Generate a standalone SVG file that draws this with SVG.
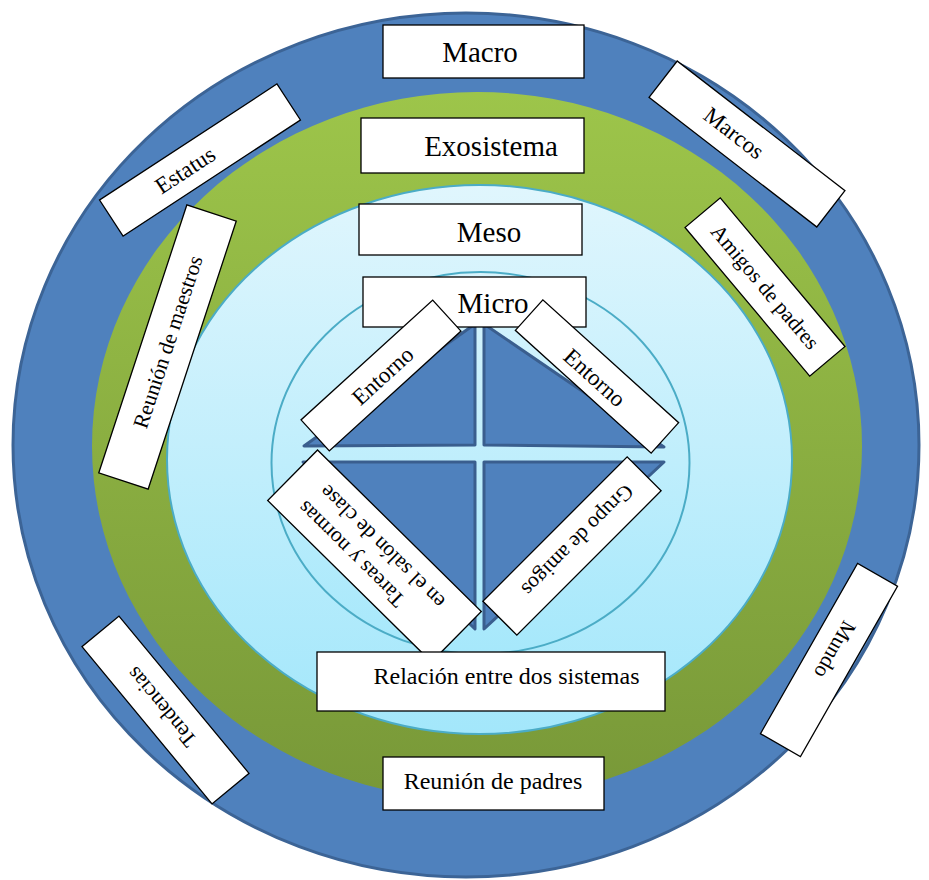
<svg xmlns="http://www.w3.org/2000/svg" width="929" height="880" viewBox="0 0 929 880" font-family="'Liberation Serif','Times New Roman',serif">
<defs>
<linearGradient id="gGreen" x1="0" y1="0" x2="0" y2="1">
<stop offset="0" stop-color="#9DC54A"/>
<stop offset="1" stop-color="#789838"/>
</linearGradient>
<linearGradient id="gMeso" x1="0" y1="0" x2="0" y2="1">
<stop offset="0" stop-color="#E0F6FD"/>
<stop offset="1" stop-color="#A3E7FB"/>
</linearGradient>
<linearGradient id="gMicro" x1="0" y1="0" x2="0" y2="1">
<stop offset="0" stop-color="#D8F4FD"/>
<stop offset="1" stop-color="#A6E8FB"/>
</linearGradient>
<style>
.box{fill:#fff;stroke:#000;stroke-width:1.3}
text{font-family:"Liberation Serif","Times New Roman",serif;fill:#000;text-anchor:middle}
.big{font-size:29px}
.mid{font-size:24px}
.sm{font-size:21.5px}
.sm2{font-size:23px}
.tri{fill:#4F81BD;stroke:#3A5E8E;stroke-width:3;stroke-linejoin:round}
</style>
</defs>
<g id="rings">
<ellipse cx="466" cy="445" rx="453" ry="432" fill="#4F81BD" stroke="#3C6496" stroke-width="3"/>
<ellipse cx="477" cy="446" rx="385" ry="354" fill="url(#gGreen)"/>
<ellipse cx="479.5" cy="459.5" rx="312.5" ry="274.5" fill="url(#gMeso)" stroke="#4BACC6" stroke-width="2"/>
<ellipse cx="480.5" cy="463" rx="209" ry="191" fill="url(#gMicro)" stroke="#4BACC6" stroke-width="2"/>
</g>
<g id="diamond">
<path class="tri" d="M475,324 L475,445 L304,446 Z"/>
<path class="tri" d="M484,324 L484,445 L664,447 Z"/>
<path class="tri" d="M475,462 L303,462 L475,629 Z"/>
<path class="tri" d="M484,462 L664,462 L484,629 Z"/>
</g>
<g id="macro"><rect class="box" x="383" y="25" width="201" height="53"/><text class="big" x="480" y="62">Macro</text></g>
<g id="exosistema"><rect class="box" x="361" y="118" width="223" height="55"/><text class="big" x="491" y="156">Exosistema</text></g>
<g id="meso"><rect class="box" x="359" y="204" width="223" height="51"/><text class="big" x="489" y="242">Meso</text></g>
<g id="micro"><rect class="box" x="363" y="277" width="223" height="50"/><text class="big" x="493" y="313">Micro</text></g>
<g id="estatus" transform="translate(200,160) rotate(-33.2)"><rect class="box" x="-106" y="-21.5" width="212" height="43"/><text class="sm2" x="-18" y="8">Estatus</text></g>
<g id="marcos" transform="translate(747,144) rotate(37.7)"><rect class="box" x="-106" y="-23" width="212" height="46"/><text class="sm2" x="-17" y="7">Marcos</text></g>
<g id="amigos-padres" transform="translate(765,287) rotate(50)"><rect class="box" x="-97" y="-23" width="194" height="46"/><text class="sm" x="0" y="7">Amigos de padres</text></g>
<g id="reunion-maestros" transform="translate(167.5,347) rotate(-71.8)"><rect class="box" x="-141" y="-26" width="282" height="52"/><text class="sm" x="5" y="6">Reunión de maestros</text></g>
<g id="entorno-izq" transform="translate(381,375.5) rotate(-42.3)"><rect class="box" x="-89" y="-21" width="178" height="42"/><text class="sm2" x="1" y="9">Entorno</text></g>
<g id="entorno-der" transform="translate(597,376.5) rotate(42.1)"><rect class="box" x="-91.5" y="-20.5" width="183" height="41"/><text class="sm2" x="-1" y="10">Entorno</text></g>
<g id="tareas" transform="translate(374.5,556) rotate(224.6)"><rect class="box" x="-115" y="-35.5" width="230" height="71"/><text class="sm" x="18" y="-8">Tareas y normas</text><text class="sm" x="1" y="19">en el salón de clase</text></g>
<g id="grupo-amigos" transform="translate(572,546) rotate(135)"><rect class="box" x="-102" y="-24" width="204" height="48"/><text class="sm" x="-8" y="7">Grupo de amigos</text></g>
<g id="tendencias" transform="translate(165.5,710) rotate(230.4)"><rect class="box" x="-102" y="-24" width="204" height="48"/><text class="sm" x="5" y="6">Tendencias</text></g>
<g id="mundo" transform="translate(829,660) rotate(119.7)"><rect class="box" x="-98" y="-23" width="196" height="46"/><text class="sm" x="-12" y="7">Mundo</text></g>
<g id="relacion"><rect class="box" x="317" y="652" width="348" height="59"/><text class="mid" x="506.5" y="684">Relación entre dos sistemas</text></g>
<g id="reunion-padres"><rect class="box" x="383" y="757" width="221" height="53"/><text class="mid" x="493" y="789">Reunión de padres</text></g>
<g id="connectors"/>
</svg>
